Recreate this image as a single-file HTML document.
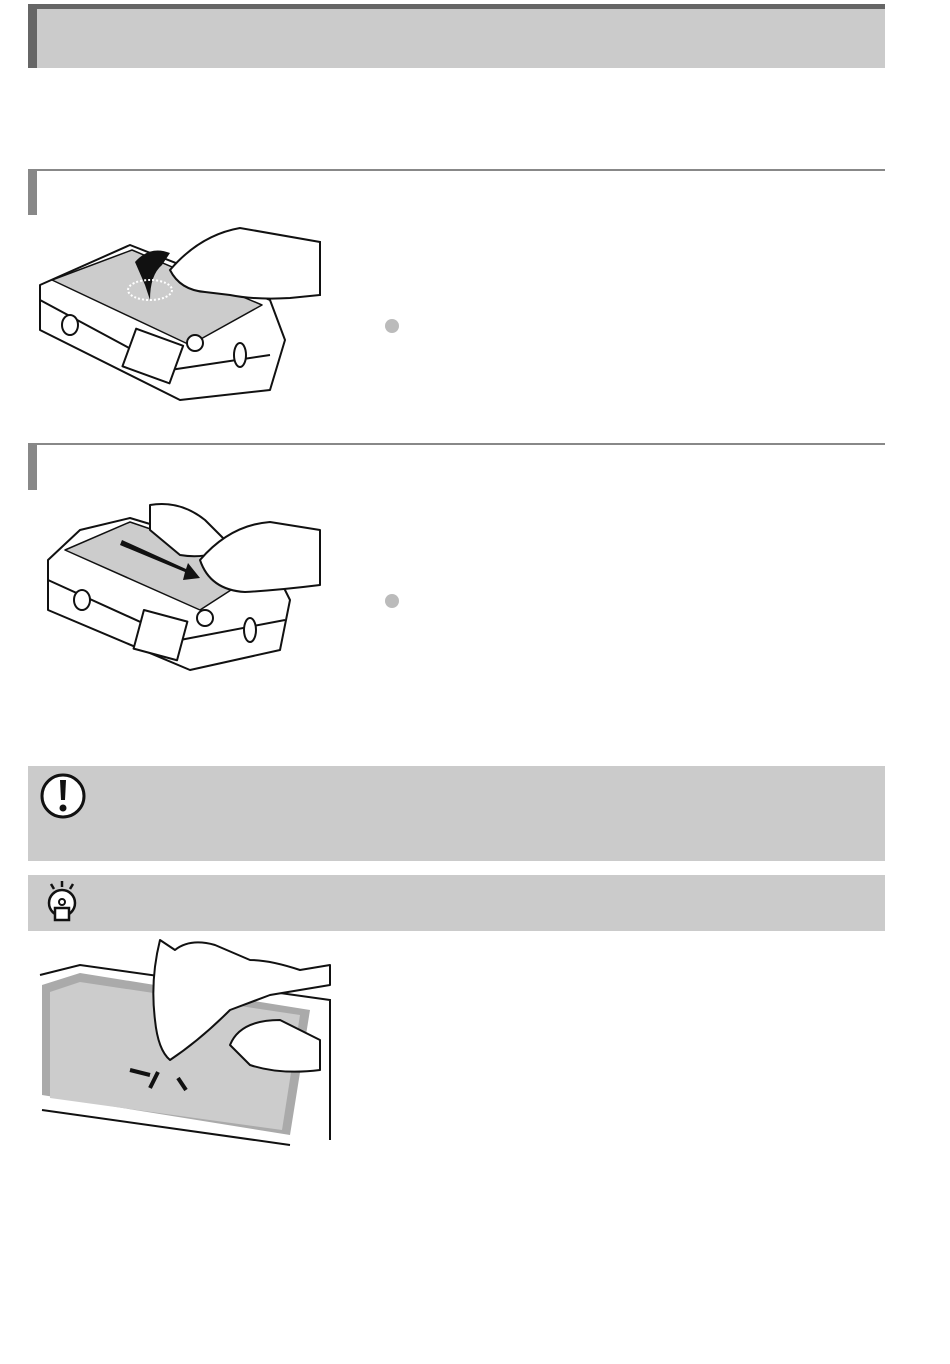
<!DOCTYPE html>
<html><head><meta charset="utf-8"><style>
body{margin:0;background:#fff;width:950px;height:1364px;position:relative;overflow:hidden;font-family:"Liberation Sans",sans-serif}
.a{position:absolute}
</style></head><body>
<div class="a" style="left:28px;top:5px;width:857px;height:63px;background:#cbcbcb"></div>
<div class="a" style="left:28px;top:4px;width:857px;height:5px;background:#666"></div>
<div class="a" style="left:28px;top:4px;width:9px;height:64px;background:#666"></div>

<div class="a" style="left:28px;top:169px;width:857px;height:2px;background:#888"></div>
<div class="a" style="left:28px;top:169px;width:9px;height:46px;background:#888"></div>
<div class="a" style="left:28px;top:443px;width:857px;height:2px;background:#888"></div>
<div class="a" style="left:28px;top:443px;width:9px;height:47px;background:#888"></div>

<div class="a" style="left:385px;top:319px;width:14px;height:14px;border-radius:50%;background:#bbb"></div>
<div class="a" style="left:385px;top:594px;width:14px;height:14px;border-radius:50%;background:#bbb"></div>

<div class="a" style="left:28px;top:766px;width:857px;height:95px;background:#cbcbcb"></div>
<div class="a" style="left:28px;top:875px;width:857px;height:56px;background:#cbcbcb"></div>

<svg class="a" style="left:0;top:0" width="950" height="1364">
<circle cx="63" cy="796" r="21" fill="#fff" stroke="#111" stroke-width="3"/>
<path d="M60 780h6l-1 20h-4z" fill="#111"/><circle cx="63" cy="808" r="3.5" fill="#111"/>
<g stroke="#111" stroke-width="2.5" fill="none">
<line x1="51" y1="884" x2="54" y2="889"/><line x1="62" y1="881" x2="62" y2="887"/><line x1="73" y1="884" x2="70" y2="889"/>
<circle cx="62" cy="903" r="13" fill="#fff"/>
</g>
<rect x="55" y="908" width="14" height="12" fill="#fff" stroke="#111" stroke-width="2.5"/>
<circle cx="62" cy="902" r="3" fill="none" stroke="#111" stroke-width="2"/>

<g stroke="#111" stroke-width="2" fill="#fff" stroke-linejoin="round">
<path d="M40 285 L130 245 L270 300 L285 340 L270 390 L180 400 L40 330 Z"/>
<path d="M52 280 L132 250 L262 305 L190 345 Z" fill="#ccc" stroke-width="1.5"/>
<path d="M40 300 L170 370 L270 355" fill="none"/>
<rect x="128" y="335" width="50" height="40" fill="#fff" transform="rotate(20 150 355)"/>
<circle cx="195" cy="343" r="8"/><ellipse cx="240" cy="355" rx="6" ry="12"/>
<ellipse cx="70" cy="325" rx="8" ry="10"/>
</g>
<path d="M135 262 Q150 245 170 253 L162 265 Q150 275 150 300 L145 285 Z" fill="#111"/>
<ellipse cx="150" cy="290" rx="22" ry="10" fill="none" stroke="#fff" stroke-width="2" stroke-dasharray="2 2"/>
<path d="M170 270 Q200 235 240 228 L320 242 L320 295 L290 298 Q255 300 230 295 L205 292 Q180 290 170 270 Z" fill="#fff" stroke="#111" stroke-width="2"/>

<g stroke="#111" stroke-width="2" fill="#fff" stroke-linejoin="round">
<path d="M48 560 L80 530 L130 518 L270 560 L290 600 L280 650 L190 670 L48 610 Z"/>
<path d="M65 550 L130 522 L265 568 L200 610 Z" fill="#ccc" stroke-width="1.5"/>
<path d="M48 580 L180 640 L285 620" fill="none"/>
<rect x="138" y="615" width="45" height="40" transform="rotate(15 160 635)"/>
<circle cx="205" cy="618" r="8"/><ellipse cx="250" cy="630" rx="6" ry="12"/>
<ellipse cx="82" cy="600" rx="8" ry="10"/>
<path d="M150 505 Q180 500 205 520 L230 545 Q210 560 180 555 L150 530 Z"/>
<path d="M200 560 Q230 525 270 522 L320 530 L320 585 Q280 590 245 592 Q210 590 200 560 Z"/>
</g>
<path d="M120 545 L185 572 L183 580 L200 578 L188 563 L186 569 L122 540 Z" fill="#111"/>

<path d="M40 975 L80 965 L330 1000 L330 1140 L40 1140 Z" fill="#fff"/>
<path d="M40 975 L80 965 L330 1000 L330 1140" fill="none" stroke="#111" stroke-width="2"/>
<path d="M42 985 L80 973 L310 1010 L290 1135 L42 1095 Z" fill="#aaa"/>
<path d="M50 992 L80 982 L300 1015 L282 1130 L50 1098 Z" fill="#ccc"/>
<path d="M42 1110 L290 1145" stroke="#111" stroke-width="2" fill="none"/>
<g stroke="#111" stroke-width="2" stroke-linejoin="round">
<path d="M160 940 Q150 980 155 1020 Q158 1050 170 1060 Q200 1040 230 1010 L270 995 L330 985 L330 965 L300 970 Q270 960 250 960 L215 945 Q190 938 175 950 Z" fill="#fff"/>
<path d="M230 1045 Q240 1020 280 1020 L320 1040 L320 1070 Q280 1075 250 1065 Z" fill="#fff"/>
</g>
<path d="M130 1070 L150 1075 M150 1088 L158 1072 M178 1078 L186 1090" stroke="#111" stroke-width="4"/>
</svg>
</body></html>
